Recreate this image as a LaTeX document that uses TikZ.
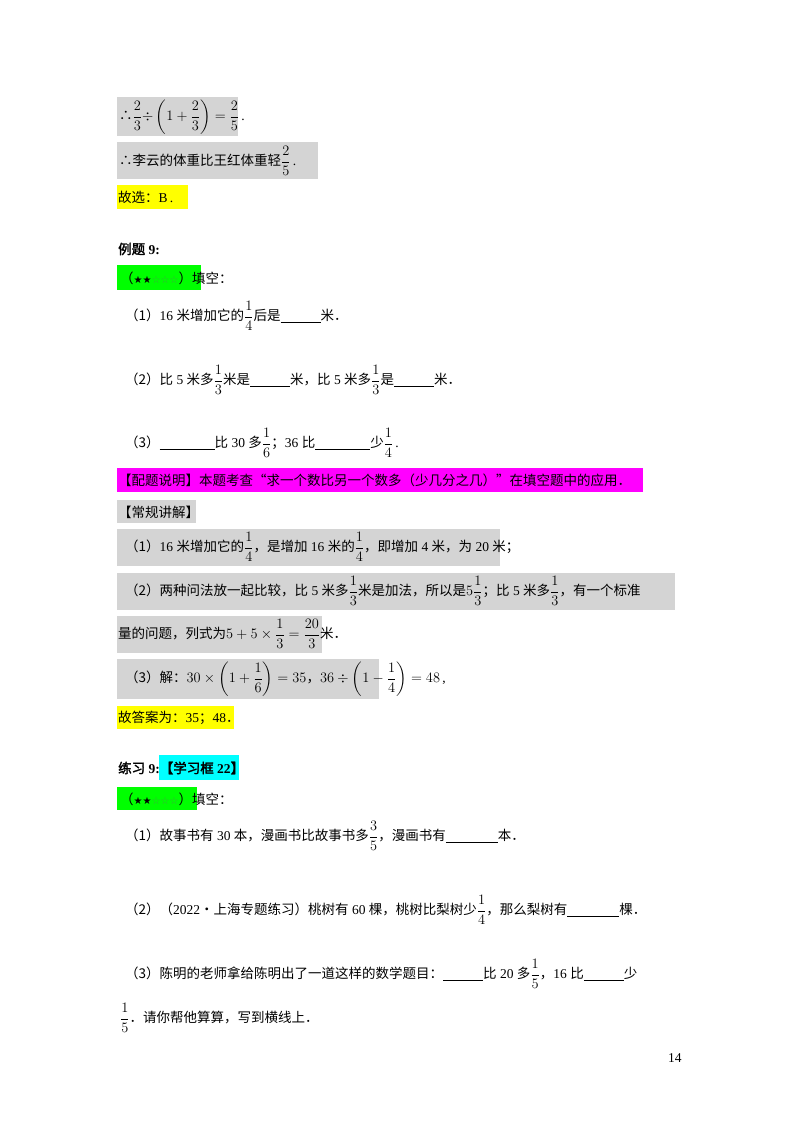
\documentclass[tikz,border=0pt]{standalone}
\usepackage{amsmath}
\usepackage{fontspec}
\setmainfont{Liberation Serif}
\newfontfamily\Z{Noto Sans CJK SC}
\newfontfamily\Zb{Noto Sans CJK SC}[FakeBold=2]
\newfontfamily\sym{DejaVu Sans}
\definecolor{gbox}{RGB}{212,212,212}
\definecolor{ybox}{RGB}{255,255,0}
\definecolor{grn}{RGB}{0,255,0}
\definecolor{mag}{RGB}{255,0,255}
\definecolor{cyn}{RGB}{0,255,255}
\definecolor{hstar}{RGB}{60,170,60}
\newcommand\fr[2]{$\displaystyle\frac{#1}{#2}$}
\newcommand\bl[1]{\rule[-1.5pt]{#1pt}{0.5pt}}
\newcommand\stars{{\Z（}{\sym\fontsize{10}{12}\selectfont ★★\textcolor{hstar}{☆☆☆}}{\Z）}}
\tikzset{t/.style={anchor=west,inner sep=0pt,font=\fontsize{13.5}{16}\selectfont}}
\begin{document}
\begin{tikzpicture}[x=1pt,y=-1pt]
\useasboundingbox[fill=white] (0,0) rectangle (800,1132);
% boxes
\fill[gbox] (117,97) rectangle (238,136);
\fill[gbox] (117,142) rectangle (318,179);
\fill[ybox] (117,185) rectangle (188,209);
\fill[grn] (117,265) rectangle (201,290);
\fill[mag] (117,468) rectangle (643,492);
\fill[gbox] (117,500) rectangle (196,523);
\fill[gbox] (117,529) rectangle (500,566);
\fill[gbox] (117,573) rectangle (675,610);
\fill[gbox] (117,616) rectangle (322,653);
\fill[gbox] (117,659) rectangle (379,699);
\fill[ybox] (117,706) rectangle (234,729);
\fill[cyn] (159,755) rectangle (239,780);
\fill[grn] (117,787) rectangle (197,810);
% texts
\node[t] (a1) at (119,117) {{\Z ∴}\fr{2}{3}$\div\left(1+\dfrac{2}{3}\right)=\dfrac{2}{5}$\,.};
\node[t] (a2) at (119,161) {{\Z ∴李云的体重比王红体重轻}\fr{2}{5}\,.};
\node[t] (a3) at (118,197) {{\Z 故选：}B\,.};
\node[t] (e9) at (118,249) {{\Zb 例题} \textbf{9:}};
\node[t] (s1) at (120,278) {\stars{\Z 填空：}};
\node[t] (q1) at (125,316) {{\Z （1）}16 {\Z 米增加它的}\fr{1}{4}{\Z 后是}\bl{40}{\Z 米．}};
\node[t] (q2) at (125,380) {{\Z （2）比} 5 {\Z 米多}\fr{1}{3}{\Z 米是}\bl{40}{\Z 米，比} 5 {\Z 米多}\fr{1}{3}{\Z 是}\bl{40}{\Z 米．}};
\node[t] (q3) at (125,443) {{\Z （3）}\bl{55}{\Z 比} 30 {\Z 多}\fr{1}{6}{\Z ；}36 {\Z 比}\bl{55}{\Z 少}\fr{1}{4}\,.};
\node[t] (m1) at (118,480) {\Z 【配题说明】本题考查“求一个数比另一个数多（少几分之几）”在填空题中的应用．};
\node[t] (m2) at (118,512) {\Z 【常规讲解】};
\node[t] (r1) at (125,547) {{\Z （1）}16 {\Z 米增加它的}\fr{1}{4}{\Z ，是增加} 16 {\Z 米的}\fr{1}{4}{\Z ，即增加} 4 {\Z 米，为} 20 {\Z 米；}};
\node[t] (r2) at (125,591) {{\Z （2）两种问法放一起比较，比} 5 {\Z 米多}\fr{1}{3}{\Z 米是加法，所以是}$5\dfrac{1}{3}${\Z ；比} 5 {\Z 米多}\fr{1}{3}{\Z ，有一个标准}};
\node[t] (r3) at (118,634) {{\Z 量的问题，列式为}$5+5\times\dfrac{1}{3}=\dfrac{20}{3}${\Z 米．}};
\node[t] (r4) at (125,679) {{\Z （3）解：}$30\times\left(1+\dfrac{1}{6}\right)=35${\Z ，}$36\div\left(1-\dfrac{1}{4}\right)=48$\,,};
\node[t] (r5) at (118,718) {{\Z 故答案为：}35{\Z ；}48{\Z ．}};
\node[t] (p9) at (118,768) {{\Zb 练习} \textbf{9:}{\Zb 【学习框} \textbf{22}{\Zb 】}};
\node[t] (s2) at (120,799) {\stars{\Z 填空：}};
\node[t] (k1) at (125,836) {{\Z （1）故事书有} 30 {\Z 本，漫画书比故事书多}\fr{3}{5}{\Z ，漫画书有}\bl{52}{\Z 本．}};
\node[t] (k2) at (125,910) {{\Z （2）（}2022{\Z •上海专题练习）桃树有} 60 {\Z 棵，桃树比梨树少}\fr{1}{4}{\Z ，那么梨树有}\bl{52}{\Z 棵．}};
\node[t] (k3) at (125,974) {{\Z （3）陈明的老师拿给陈明出了一道这样的数学题目：}\bl{40}{\Z 比} 20 {\Z 多}\fr{1}{5}{\Z ，}16 {\Z 比}\bl{40}{\Z 少}};
\node[t] (k4) at (120,1018) {\fr{1}{5}{\Z ．请你帮他算算，写到横线上．}};
\node[t] (pg) at (668,1058) {14};
\end{tikzpicture}
\end{document}
